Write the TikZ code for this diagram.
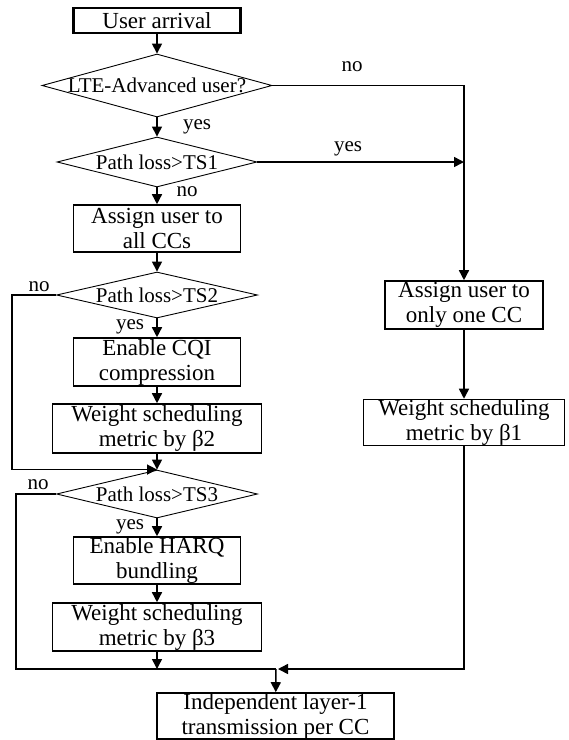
\documentclass[tikz,border=0pt]{standalone}
\usepackage{fontspec}
\setmainfont{Liberation Serif}
\usetikzlibrary{arrows.meta,shapes.geometric}
\begin{document}
\begin{tikzpicture}[x=1pt,y=-1pt,
  box/.style={draw, line width=1.6pt, inner sep=0pt, align=center, font=\fontsize{23}{25}\selectfont},
  dec/.style={draw, diamond, line width=0.9pt, inner sep=0pt},
  dtext/.style={font=\fontsize{21}{23}\selectfont, inner sep=0pt},
  lab/.style={font=\fontsize{21}{23}\selectfont, inner sep=0pt},
  arr/.style={line width=1.5pt, -{Triangle[length=10pt,width=10pt]}},
  conn/.style={line width=1.5pt}]
\useasboundingbox (0,0) rectangle (569,740);

% left column
\node[box, line width=2.2pt, minimum width=167pt, minimum height=25pt] (b0) at (157,20.5) {User arrival};
\node[dec, minimum width=230pt, minimum height=63pt, label={[dtext]center:LTE-Advanced user?}] (d1) at (157,85.5) {};
\node[dec, minimum width=200pt, minimum height=50pt, label={[dtext]center:Path loss>TS1}] (d2) at (157,162) {};
\node[box, minimum width=167pt, minimum height=47pt] (b1) at (157,228.5) {Assign user to\\all CCs};
\node[dec, minimum width=201pt, minimum height=46pt, label={[dtext]center:Path loss>TS2}] (d3) at (157,295) {};
\node[box, minimum width=167pt, minimum height=48pt] (b2) at (157,362) {Enable CQI\\compression};
\node[box, minimum width=209pt, minimum height=49pt] (b3) at (157,428.5) {Weight scheduling\\metric by β2};
\node[dec, minimum width=201pt, minimum height=48pt, label={[dtext]center:Path loss>TS3}] (d4) at (157,494) {};
\node[box, minimum width=167pt, minimum height=47pt] (b4) at (157,560.5) {Enable HARQ\\bundling};
\node[box, minimum width=209pt, minimum height=48pt] (b5) at (157,627) {Weight scheduling\\metric by β3};
\node[box, minimum width=237pt, minimum height=46pt] (b6) at (275.5,716) {Independent layer-1\\transmission per CC};

% right column
\node[box, minimum width=158pt, minimum height=48pt] (r1) at (464,305) {Assign user to\\only one CC};
\node[box, minimum width=201pt, minimum height=45pt] (r2) at (464,422.5) {Weight scheduling\\metric by β1};

\coordinate (j) at (276,669);

% connectors
\draw[arr] (b0) -- (d1);
\draw[arr] (d1) -- (d2);
\draw[arr] (d2) -- (b1);
\draw[arr] (b1) -- (d3);
\draw[arr] (d3) -- (b2);
\draw[arr] (b2) -- (b3);
\draw[arr] (b3) -- (d4);
\draw[arr] (d4) -- (b4);
\draw[arr] (b4) -- (b5);
\draw[arr] (b5) -- (b5.south |- j);
\draw[arr] (d1.east) -| (r1.north);
\draw[arr] (d2.east) -- (d2.east -| r1.north);
\draw[arr] (r1) -- (r2);
\draw[arr] (d3.west) -- ++(-44,0) |- (d4.north);
\draw[conn] (d4.west) -- ++(-40,0) |- (j);
\draw[arr] (r2.south) |- ([xshift=2pt]j);
\draw[arr] (j) -- (b6);

% labels
\node[lab] (l1) at (197,127) {yes};
\node[lab] (l2) at (187,192) {no};
\node[lab] (l3) at (352,67) {no};
\node[lab] (l4) at (348,149) {yes};
\node[lab] (l5) at (39,287) {no};
\node[lab] (l6) at (130,327) {yes};
\node[lab] (l7) at (38,485) {no};
\node[lab] (l8) at (130,527) {yes};
\end{tikzpicture}
\end{document}
